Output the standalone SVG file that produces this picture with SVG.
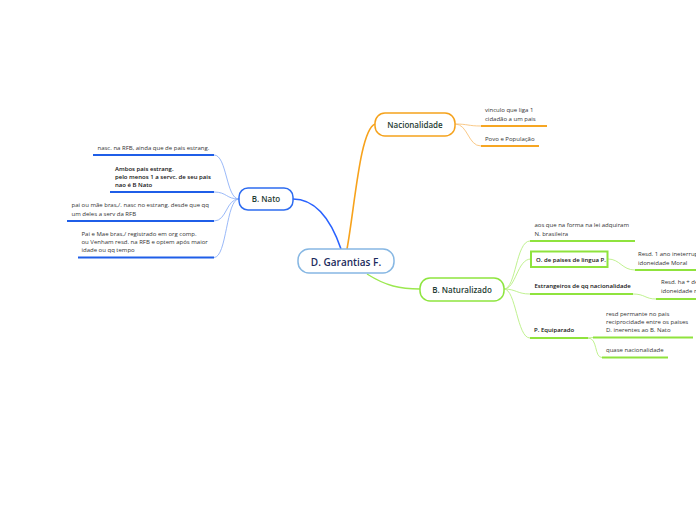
<svg xmlns="http://www.w3.org/2000/svg" width="696" height="520" viewBox="0 0 696 520">
<style>
text{font-family:"Open Sans","Liberation Sans",sans-serif;}
.t{font-size:6px;fill:#333;}
.tb{font-size:6px;fill:#111;font-weight:600;}
.node{fill:#fff;stroke-width:1.5;}
.nt{font-size:8px;font-weight:600;fill:#1f3d33;text-anchor:middle;}
.ub{stroke:#1f5ee8;stroke-width:2;fill:none;}
.uo{stroke:#f6a623;stroke-width:2;fill:none;}
.ug{stroke:#8fe33d;stroke-width:2;fill:none;}
.cb{stroke:#8fb1f7;stroke-width:0.9;fill:none;}
.co{stroke:#f8c37a;stroke-width:0.9;fill:none;}
.cg{stroke:#b9ef83;stroke-width:0.9;fill:none;}
</style>
<rect width="696" height="520" fill="#fff"/>
<g id="connectors">
<path d="M341,249 C331,220 316,199 293,199" stroke="#2962ff" stroke-width="1.6" fill="none"/>
<path d="M347,249 C355,205 360,130 375,124" stroke="#f7a21b" stroke-width="1.6" fill="none"/>
<path d="M367,274 C386,286 400,289 420,289" stroke="#9be84f" stroke-width="1.3" fill="none"/>
<path class="cb" d="M239,199 C226,199 227,155 214,155"/>
<path class="cb" d="M239,199 C226,199 227,192 214,192"/>
<path class="cb" d="M239,199 C226,199 227,221 214,221"/>
<path class="cb" d="M239,199 C226,199 227,257.5 214,257.5"/>
<path class="co" d="M455,124 C468,124 468,126 481,126"/>
<path class="co" d="M455,124 C468,124 468,146 481,146"/>
<path class="cg" d="M504,289 C516,289 516,241 530,241"/>
<path class="cg" d="M504,289 C516,289 517,259 531,259"/>
<path class="cg" d="M504,289 C516,289 517,294 530,294"/>
<path class="cg" d="M504,289 C516,289 517,338 530,338"/>
<path class="cg" d="M608,259 C620,259 622,270 635,270"/>
<path class="cg" d="M633,294 C645,294 645,299 656,299"/>
<path class="cg" d="M588,338 L593,337.5"/>
<path class="cg" d="M588,338 C598,338 594,357.5 602,357.5"/>
</g>
<g id="central">
<rect class="node" x="298" y="249" width="96" height="24" rx="11" stroke="#86b7e3"/>
<text x="346" y="265.5" font-size="10" font-weight="600" fill="#1b2a5c" text-anchor="middle">D. Garantias F.</text>
</g>
<g id="b-nato">
<rect class="node" x="239" y="188" width="54" height="22" rx="9" stroke="#2e6cf0"/>
<text class="nt" x="266" y="202">B. Nato</text>
</g>
<g id="nacionalidade">
<rect class="node" x="375" y="113" width="80" height="23" rx="10" stroke="#f5a21c"/>
<text class="nt" x="415" y="127.5">Nacionalidade</text>
</g>
<g id="b-naturalizado">
<rect class="node" x="420" y="278" width="84" height="23" rx="10" stroke="#8ee53f"/>
<text class="nt" x="462" y="292.5">B. Naturalizado</text>
</g>
<g id="nato-1">
<text class="t" x="97.5" y="150">nasc. na RFB, ainda que de pais estrang.</text>
<path class="ub" d="M93,155 H214"/>
</g>
<g id="nato-2">
<text class="tb" x="115" y="170.5">Ambos pais estrang.</text>
<text class="tb" x="115" y="178.8">pelo menos 1 a servc. de seu pais</text>
<text class="tb" x="115" y="187">nao é B Nato</text>
<path class="ub" d="M110,192 H214"/>
</g>
<g id="nato-3">
<text class="t" x="71.5" y="207">pai ou mãe bras,/. nasc no estrang. desde que qq</text>
<text class="t" x="71.5" y="215.5">um deles a serv da RFB</text>
<path class="ub" d="M67,221 H214"/>
</g>
<g id="nato-4">
<text class="t" x="81.5" y="235.5">Pai e Mae bras,/ registrado em org comp.</text>
<text class="t" x="81.5" y="243.8">ou Venham resd. na RFB e optem após maior</text>
<text class="t" x="81.5" y="252">idade ou qq tempo</text>
<path class="ub" d="M78,257.5 H214"/>
</g>
<g id="nac-1">
<text class="t" x="485" y="112">vinculo que liga 1</text>
<text class="t" x="485" y="120.5">cidadão a um pais</text>
<path class="uo" d="M481,126 H547"/>
</g>
<g id="nac-2">
<text class="t" x="485" y="140.5">Povo e População</text>
<path class="uo" d="M481,146 H539"/>
</g>
<g id="nat-1">
<text class="t" x="534.5" y="227">aos que na forma na lei adquiram</text>
<text class="t" x="534.5" y="235.5">N. brasileira</text>
<path class="ug" d="M530,241 H635"/>
</g>
<g id="nat-2">
<rect x="531" y="251.5" width="76.5" height="15.5" fill="#fff" stroke="#8fe33d" stroke-width="2"/>
<text class="tb" x="536" y="261.5">O. de paises de lingua P.</text>
</g>
<g id="nat-2-1">
<text class="t" x="638" y="256">Resd. 1 ano ineterrup</text>
<text class="t" x="638" y="264.5">idoneidade Moral</text>
<path class="ug" d="M635,270 H696"/>
</g>
<g id="nat-3">
<text class="tb" x="534.5" y="288">Estrangeiros de qq nacionalidade</text>
<path class="ug" d="M530,294 H633"/>
</g>
<g id="nat-3-1">
<text class="t" x="661" y="284">Resd. ha + de</text>
<text class="t" x="661" y="293">idoneidade m</text>
<path class="ug" d="M656,299 H696"/>
</g>
<g id="nat-4">
<text class="tb" x="534" y="332">P. Equiparado</text>
<path class="ug" d="M530,338 H588"/>
</g>
<g id="nat-4-1">
<text class="t" x="606" y="315.5">resd permante no pais</text>
<text class="t" x="606" y="324">reciprocidade entre os paises</text>
<text class="t" x="606" y="332.3">D. inerentes ao B. Nato</text>
<path class="ug" d="M593,337.5 H693"/>
</g>
<g id="nat-4-2">
<text class="t" x="606" y="352">quase nacionalidade</text>
<path class="ug" d="M602,357.5 H668"/>
</g>
</svg>
